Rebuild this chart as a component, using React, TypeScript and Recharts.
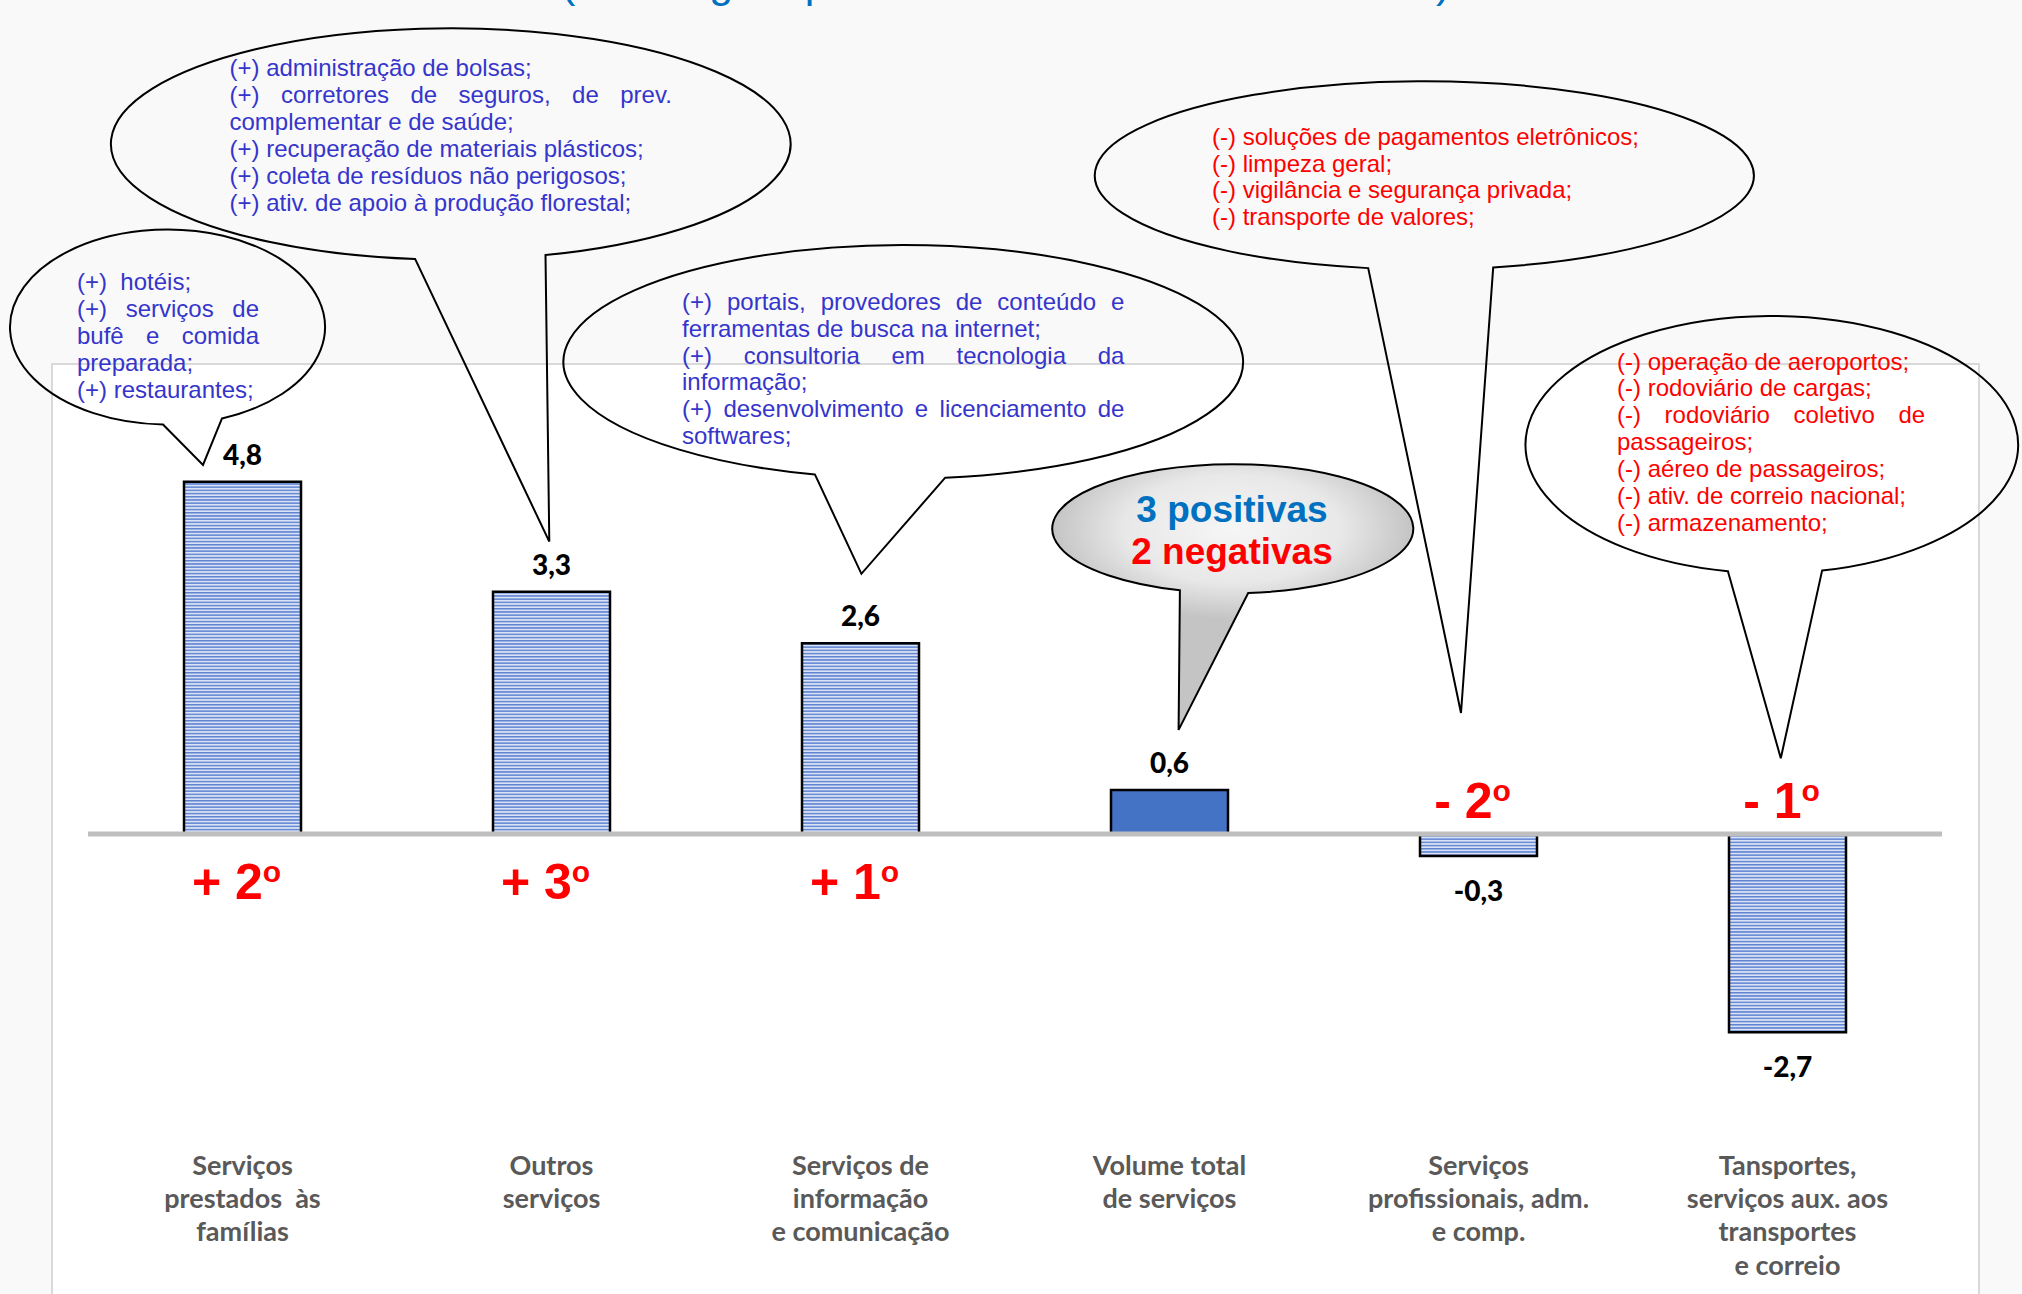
import React from 'react';
import { BarChart, Bar, XAxis, YAxis, ReferenceLine, LabelList, Cell } from 'recharts';

// ---------- data ----------
const categories = [
  'Serviços prestados às famílias',
  'Outros serviços',
  'Serviços de informação e comunicação',
  'Volume total de serviços',
  'Serviços profissionais, adm. e comp.',
  'Tansportes, serviços aux. aos transportes e correio',
];
const categoryLines = [
  ['Serviços', 'prestados  às', 'famílias'],
  ['Outros', 'serviços'],
  ['Serviços de', 'informação', 'e comunicação'],
  ['Volume total', 'de serviços'],
  ['Serviços', 'profissionais, adm.', 'e comp.'],
  ['Tansportes,', 'serviços aux. aos', 'transportes', 'e correio'],
];
const values = [4.8, 3.3, 2.6, 0.6, -0.3, -2.7];
const ranks = ['+ 2', '+ 3', '+ 1', '', '- 2', '- 1'];
const totalCategory = 'Volume total de serviços';

const titleText = '(Ranking de pontos de influência no resultado)';

const notesFamilias: [string, boolean][] = [
  ['(+)\u00a0\u00a0hotéis;', false],
  ['(+) serviços de', true],
  ['bufê e comida', true],
  ['preparada;', false],
  ['(+) restaurantes;', false],
];
const notesOutros: [string, boolean][] = [
  ['(+) administração de bolsas;', false],
  ['(+) corretores de seguros, de prev.', true],
  ['complementar e de saúde;', false],
  ['(+) recuperação de materiais plásticos;', false],
  ['(+) coleta de resíduos não perigosos;', false],
  ['(+) ativ. de apoio à produção florestal;', false],
];
const notesInformacao: [string, boolean][] = [
  ['(+) portais, provedores de conteúdo e', true],
  ['ferramentas de busca na internet;', false],
  ['(+) consultoria em tecnologia da', true],
  ['informação;', false],
  ['(+) desenvolvimento e licenciamento de', true],
  ['softwares;', false],
];
const notesProfissionais: [string, boolean][] = [
  ['(-) soluções de pagamentos eletrônicos;', false],
  ['(-) limpeza geral;', false],
  ['(-) vigilância e segurança privada;', false],
  ['(-) transporte de valores;', false],
];
const notesTransportes: [string, boolean][] = [
  ['(-) operação de aeroportos;', false],
  ['(-) rodoviário de cargas;', false],
  ['(-) rodoviário coletivo de', true],
  ['passageiros;', false],
  ['(-) aéreo de passageiros;', false],
  ['(-) ativ. de correio nacional;', false],
  ['(-) armazenamento;', false],
];
const summaryPositive = '3 positivas';
const summaryNegative = '2 negativas';

const data = categories.map((name, i) => ({ name, value: values[i], rank: ranks[i] }));

// ---------- helpers ----------
const ARIAL = '"Liberation Sans", Arial, sans-serif';
const LABEL_FONT = 'Lato, "Open Sans", sans-serif';
const NOTE_FS = 24;

let measureCtx: CanvasRenderingContext2D | null = null;
function measure(text: string, font: string): number {
  if (!measureCtx) {
    const c = document.createElement('canvas');
    measureCtx = c.getContext('2d');
  }
  if (!measureCtx) return text.length * 12;
  measureCtx.font = font;
  return measureCtx.measureText(text).width;
}

function getBox(props: any) {
  const vb = props.viewBox && props.viewBox.width !== undefined ? props.viewBox : props;
  const x = Number(vb.x), y = Number(vb.y), w = Number(vb.width), h = Number(vb.height);
  return { x, w, top: Math.min(y, y + h), bottom: Math.max(y, y + h) };
}

const ValueLabel = (props: any) => {
  const { value } = props;
  if (value === undefined || value === null) return null;
  const b = getBox(props);
  const v = Number(value);
  const cx = b.x + b.w / 2;
  const ty = v >= 0 ? b.top - 17 : b.bottom + 45;
  return (
    <text x={cx} y={ty} textAnchor="middle" fontFamily={LABEL_FONT} fontWeight={900} fontSize={28} fill="#000">
      {v.toFixed(1).replace('.', ',')}
    </text>
  );
};

const RankLabel = (props: any) => {
  const { value, index } = props;
  if (!value) return null;
  const b = getBox(props);
  const v = values[index];
  const cx = b.x + b.w / 2 - 6;
  const ty = v >= 0 ? b.bottom + 65 : b.top - 16;
  return (
    <text x={cx} y={ty} textAnchor="middle" fontFamily={ARIAL} fontWeight={700} fontSize={50} fill="#ff0000">
      {value}
      <tspan fontSize={30} dy={-17}>o</tspan>
    </text>
  );
};

const CatTick = (props: any) => {
  const { x, y, payload } = props;
  const idx = categories.indexOf(payload.value);
  const lines = categoryLines[idx] || [];
  return (
    <g>
      {lines.map((l, i) => (
        <text key={i} x={x} y={y + 47 + i * 33.3} textAnchor="middle" fontFamily={LABEL_FONT} fontWeight={700}
          fontSize={27} fill="#595959" style={{ whiteSpace: 'pre' }}>
          {l}
        </text>
      ))}
    </g>
  );
};

function bubblePath(cx: number, cy: number, rx: number, ry: number, b1: number, b2: number, tx: number, ty: number) {
  const yAt = (x: number) => cy + ry * Math.sqrt(Math.max(0, 1 - ((x - cx) / rx) ** 2));
  const y1 = yAt(b1), y2 = yAt(b2);
  return `M ${b1} ${y1} L ${tx} ${ty} L ${b2} ${y2} A ${rx} ${ry} 0 1 0 ${b1} ${y1} Z`;
}

const NoteText = ({ lines, x, y0, lh, width, color }: { lines: [string, boolean][]; x: number; y0: number; lh: number; width: number; color: string }) => {
  const font = `${NOTE_FS}px "Liberation Sans"`;
  return (
    <g fontFamily={ARIAL} fontSize={NOTE_FS} fill={color}>
      {lines.map(([t, just], i) => {
        const y = y0 + i * lh;
        if (!just) return <text key={i} x={x} y={y}>{t}</text>;
        const words = t.split(' ');
        const ws = words.map((w) => measure(w, font));
        const total = ws.reduce((a, b) => a + b, 0);
        const gap = words.length > 1 ? (width - total) / (words.length - 1) : 0;
        let cur = x;
        return (
          <g key={i}>
            {words.map((w, j) => {
              const el = <text key={j} x={cur} y={y}>{w}</text>;
              cur += ws[j] + gap;
              return el;
            })}
          </g>
        );
      })}
    </g>
  );
};

const BLUE_NOTE = '#3535cc';
const RED = '#ff0000';

export default function App() {
  return (
    <div style={{ position: 'absolute', left: 0, top: 0, width: 2022, height: 1294, overflow: 'hidden', background: '#f9f9f9' }}>
      <div style={{ position: 'absolute', left: 51, top: 363, width: 1929, height: 1000, background: '#ffffff', border: '2px solid #d9d9d9', boxSizing: 'border-box' }} />
      <div style={{ position: 'absolute', left: 0, top: 0 }}>
        <BarChart width={2022} height={1294} data={data} margin={{ top: 393.6, right: 80, bottom: 0, left: 88 }}>
          <defs>
            <pattern id="stripes" patternUnits="userSpaceOnUse" width="8" height="3.2">
              <rect width="8" height="3.2" fill="#dae2f5" />
              <rect width="8" height="1.5" fill="#5f84d2" />
            </pattern>
          </defs>
          <XAxis dataKey="name" height={166.4} axisLine={false} tickLine={false} tickSize={0} tickMargin={0} interval={0} tick={<CatTick />} />
          <YAxis hide domain={[-4, 6]} />
          <Bar dataKey="value" barSize={117} isAnimationActive={false} stroke="#000000" strokeWidth={2.5}>
            {data.map((d, i) => (
              <Cell key={i} fill={d.name === totalCategory ? '#4472c4' : 'url(#stripes)'} />
            ))}
            <LabelList dataKey="value" content={ValueLabel} />
            <LabelList dataKey="rank" content={RankLabel} />
          </Bar>
          <ReferenceLine y={0} stroke="#bfbfbf" strokeWidth={5} />
        </BarChart>
      </div>
      <svg width={2022} height={1294} style={{ position: 'absolute', left: 0, top: 0, pointerEvents: 'none', display: 'block' }}>
        <defs>
          <radialGradient id="grayFill" gradientUnits="userSpaceOnUse" cx={1232.8} cy={528.7} r={180.5}
            gradientTransform={`translate(1232.8 528.7) scale(1 ${64.5 / 180.5 * 1.4}) translate(-1232.8 -528.7)`}>
            <stop offset="0" stopColor="#f6f6f6" />
            <stop offset="0.6" stopColor="#e8e8e8" />
            <stop offset="1" stopColor="#c4c4c4" />
          </radialGradient>
        </defs>
        <text x={561} y={-3} fontFamily={ARIAL} fontSize={43} fill="#0070c0">{titleText}</text>

        <g fill="none" stroke="#000" strokeWidth={2}>
          <path d={bubblePath(167.5, 327, 157.5, 97.5, 163, 222, 203, 465)} />
          <path d={bubblePath(450.7, 144, 339.8, 115.7, 415.2, 545.5, 549.3, 541.6)} />
          <path d={bubblePath(903.3, 361.8, 339.8, 116.8, 815, 945.2, 861.4, 573.8)} />
          <path d={bubblePath(1424.3, 175.4, 329.5, 94.1, 1368.2, 1493.2, 1461, 713)} />
          <path d={bubblePath(1771.8, 444.6, 246.3, 128.7, 1727.9, 1822.1, 1780.8, 758.2)} />
        </g>
        <path d={bubblePath(1232.8, 528.7, 180.5, 64.5, 1179.9, 1248.2, 1178.6, 729.9)} fill="url(#grayFill)" stroke="#000" strokeWidth={2} />

        <NoteText lines={notesFamilias} x={77} y0={290} lh={27} width={182} color={BLUE_NOTE} />
        <NoteText lines={notesOutros} x={229.5} y0={75.5} lh={27} width={442.3} color={BLUE_NOTE} />
        <NoteText lines={notesInformacao} x={682} y0={310} lh={26.8} width={442.4} color={BLUE_NOTE} />
        <NoteText lines={notesProfissionais} x={1212} y0={145} lh={26.7} width={420} color={RED} />
        <NoteText lines={notesTransportes} x={1617} y0={369.5} lh={26.9} width={308.2} color={RED} />

        <text x={1232} y={522} textAnchor="middle" fontFamily={ARIAL} fontWeight={700} fontSize={37} fill="#0070c0">{summaryPositive}</text>
        <text x={1232} y={563.5} textAnchor="middle" fontFamily={ARIAL} fontWeight={700} fontSize={37} fill="#ff0000">{summaryNegative}</text>
      </svg>
    </div>
  );
}
